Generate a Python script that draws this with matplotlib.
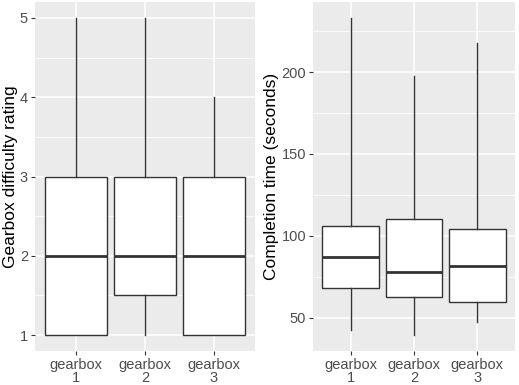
import matplotlib
matplotlib.use('Agg')
import matplotlib.pyplot as plt
from matplotlib.ticker import MultipleLocator

plt.rcParams['font.family'] = ['Liberation Sans', 'DejaVu Sans']

# Data
groups = ['gearbox\n1', 'gearbox\n2', 'gearbox\n3']

rating_low = [1, 1, 1]
rating_q1 = [1, 1.5, 1]
rating_med = [2, 2, 2]
rating_q3 = [3, 3, 3]
rating_high = [5, 5, 4]

time_low = [42.3, 39.4, 47.3]
time_q1 = [68.3, 62.8, 59.7]
time_med = [87.1, 77.7, 81.4]
time_q3 = [106.1, 110.2, 104.5]
time_high = [233.1, 197.4, 217.9]

fig = plt.figure(figsize=(5.19, 3.85), dpi=100)
W, H = 519, 385
ax1 = fig.add_axes([35 / W, 34 / H, 220 / W, 349 / H])
ax2 = fig.add_axes([313 / W, 34 / H, 202 / W, 349 / H])


def draw(ax, low, q1, med, q3, high, major, minor, ylabel, label_x):
    stats = []
    for i in range(len(groups)):
        stats.append({'whislo': low[i], 'q1': q1[i], 'med': med[i],
                      'q3': q3[i], 'whishi': high[i], 'fliers': []})
    ax.bxp(stats, positions=[1, 2, 3], widths=0.9, showcaps=False,
           patch_artist=True, showfliers=False,
           boxprops=dict(facecolor='white', edgecolor='#333333', linewidth=1.0),
           whiskerprops=dict(color='#333333', linewidth=1.0),
           medianprops=dict(color='#333333', linewidth=2.0))
    ax.set_facecolor('#EBEBEB')
    for s in ax.spines.values():
        s.set_visible(False)
    ax.yaxis.set_major_locator(MultipleLocator(major))
    ax.yaxis.set_minor_locator(MultipleLocator(minor))
    ax.grid(which='major', color='white', linewidth=1.1)
    ax.grid(which='minor', axis='y', color='white', linewidth=0.55)
    ax.set_axisbelow(True)
    lo = min(low)
    hi = max(high)
    pad = (hi - lo) * 0.05
    ax.set_ylim(lo - pad, hi + pad)
    ax.set_xlim(0.4, 3.6)
    ax.set_xticks([1, 2, 3])
    ax.set_xticklabels(groups, linespacing=0.9)
    ax.tick_params(which='major', color='#333333', length=3, width=0.8,
                   labelcolor='#4D4D4D', labelsize=10.5, pad=2)
    ax.tick_params(which='minor', length=0)
    ax.set_ylabel(ylabel, fontsize=12.5, color='black')
    ax.yaxis.set_label_coords(label_x, 0.5)


draw(ax1, rating_low, rating_q1, rating_med, rating_q3, rating_high,
     1, 0.5, 'Gearbox difficulty rating', -17 / 220)
draw(ax2, time_low, time_q1, time_med, time_q3, time_high,
     50, 25, 'Completion time (seconds)', -34 / 202)

fig.savefig('out.png', dpi=100)
